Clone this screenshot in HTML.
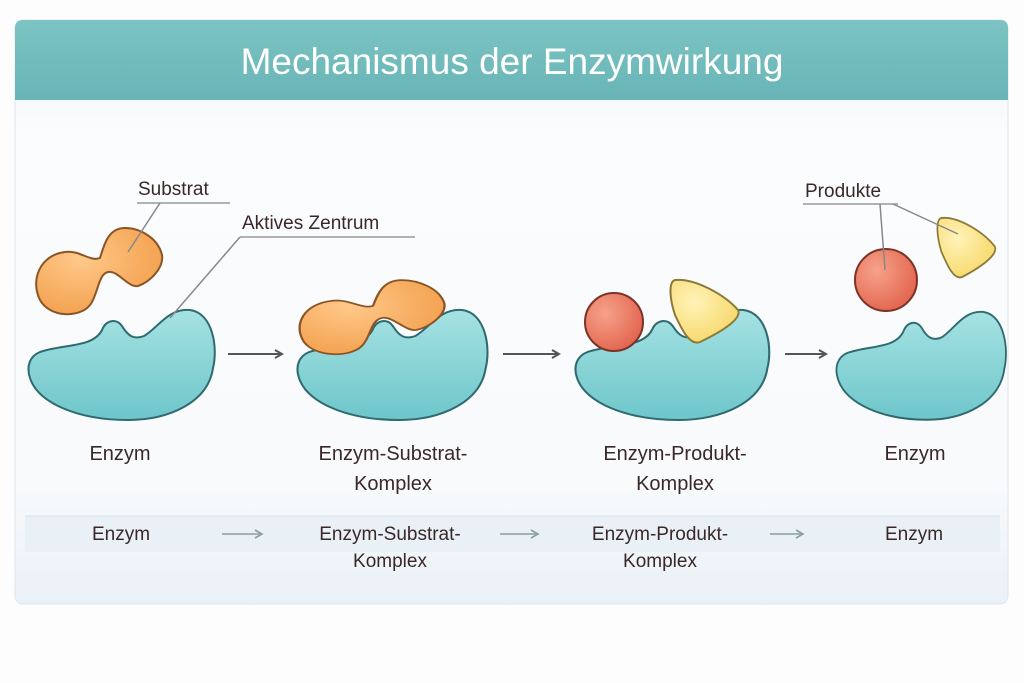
<!DOCTYPE html>
<html><head><meta charset="utf-8"><style>
html,body{margin:0;padding:0;background:#fdfdfd;width:1024px;height:683px;overflow:hidden}
svg{display:block}
text{font-family:"Liberation Sans","DejaVu Sans",sans-serif;fill:#3a2828}
</style></head><body>
<svg width="1024" height="683" viewBox="0 0 1024 683">
<defs>
<linearGradient id="hdr" x1="0" y1="0" x2="0" y2="1"><stop offset="0" stop-color="#7cc4c4"/><stop offset="1" stop-color="#68b4b6"/></linearGradient>
<linearGradient id="card" x1="0" y1="0" x2="0" y2="1"><stop offset="0" stop-color="#eef4f9"/><stop offset="0.2" stop-color="#fbfcfd"/><stop offset="0.8" stop-color="#f8fafc"/><stop offset="1" stop-color="#e9f1f7"/></linearGradient>
<linearGradient id="enz" x1="0" y1="0" x2="0" y2="1"><stop offset="0" stop-color="#a6e2e3"/><stop offset="1" stop-color="#6ec6ca"/></linearGradient>
<radialGradient id="org" cx="0.35" cy="0.35" r="0.7"><stop offset="0" stop-color="#ffc98a"/><stop offset="1" stop-color="#f3a04e"/></radialGradient>
<radialGradient id="red" cx="0.35" cy="0.35" r="0.7"><stop offset="0" stop-color="#f7a28a"/><stop offset="1" stop-color="#e2654f"/></radialGradient>
<radialGradient id="yel" cx="0.35" cy="0.35" r="0.7"><stop offset="0" stop-color="#fff3b8"/><stop offset="1" stop-color="#f7d86a"/></radialGradient>
<path id="E" d="M 12 44 C 35 36, 65 40, 74 22 C 78 12, 88 10, 94 18 C 100 28, 106 32, 116 28 C 130 20, 140 0, 162 2 C 185 5, 190 40, 185 60 C 180 95, 140 112, 100 112 C 50 112, 10 95, 2 70 C -2 58, 2 48, 12 44 Z" fill="url(#enz)" stroke="#2e6a70" stroke-width="2"/>
<path id="S" d="M 40 300 C 30 280, 40 255, 65 252 C 80 250, 90 262, 100 258 C 104 245, 108 228, 125 228 C 140 228, 158 238, 162 255 C 164 268, 150 282, 138 286 C 128 288, 118 270, 108 272 C 98 274, 98 295, 90 305 C 80 318, 50 318, 40 300 Z" fill="url(#org)" stroke="#8a5526" stroke-width="2"/>
<path id="Y" d="M 5 0 C 25 -2, 55 15, 68 30 C 72 38, 55 50, 30 62 C 20 66, 12 50, 5 35 C 0 20, -2 2, 5 0 Z" fill="url(#yel)" stroke="#8a7a3a" stroke-width="2"/>
<marker id="ah" markerWidth="10" markerHeight="10" refX="8" refY="5" orient="auto" markerUnits="userSpaceOnUse"><path d="M1 1 L8 5 L1 9" fill="none" stroke="#555" stroke-width="2"/></marker>
<marker id="ah2" markerWidth="10" markerHeight="10" refX="8" refY="5" orient="auto" markerUnits="userSpaceOnUse"><path d="M1 1 L8 5 L1 9" fill="none" stroke="#8a9ea6" stroke-width="1.6"/></marker>
</defs>
<rect x="15" y="20" width="993" height="584" rx="8" fill="url(#card)" stroke="#dde6ee"/>
<path d="M15 28 Q15 20 23 20 L1000 20 Q1008 20 1008 28 L1008 100 L15 100 Z" fill="url(#hdr)"/>
<text x="512" y="74" text-anchor="middle" font-size="37" style="fill:#fff">Mechanismus der Enzymwirkung</text>

<!-- stage 1 -->
<use href="#E" x="28" y="308"/>
<use href="#S"/>
<!-- stage 2 -->
<use href="#E" transform="translate(297,308) scale(1.02,1)"/>
<use href="#S" transform="translate(258,84) scale(1.15,0.86)"/>
<!-- stage 3 -->
<use href="#E" transform="translate(575,308) scale(1.04,1)"/>
<circle cx="614" cy="322" r="29" fill="url(#red)" stroke="#7a3326" stroke-width="2"/>
<use href="#Y" transform="translate(670,280)"/>
<!-- stage 4 -->
<use href="#E" transform="translate(836,310) scale(0.91,0.98)"/>
<circle cx="886" cy="280" r="31" fill="url(#red)" stroke="#7a3326" stroke-width="2"/>
<use href="#Y" transform="translate(937,218) scale(0.85,0.95)"/>

<!-- labels -->
<text x="138" y="195" font-size="19">Substrat</text>
<line x1="137" y1="203" x2="230" y2="203" stroke="#999" stroke-width="1.5"/>
<line x1="160" y1="203" x2="128" y2="252" stroke="#888" stroke-width="1.5"/>
<text x="242" y="229" font-size="19">Aktives Zentrum</text>
<line x1="240" y1="237" x2="415" y2="237" stroke="#999" stroke-width="1.5"/>
<line x1="240" y1="237" x2="170" y2="318" stroke="#888" stroke-width="1.5"/>
<text x="805" y="197" font-size="19">Produkte</text>
<line x1="803" y1="204" x2="898" y2="204" stroke="#999" stroke-width="1.5"/>
<line x1="880" y1="204" x2="885" y2="270" stroke="#888" stroke-width="1.5"/>
<line x1="893" y1="204" x2="958" y2="234" stroke="#888" stroke-width="1.5"/>

<!-- arrows -->
<line x1="228" y1="354" x2="282" y2="354" stroke="#555" stroke-width="2" marker-end="url(#ah)"/>
<line x1="503" y1="354" x2="559" y2="354" stroke="#555" stroke-width="2" marker-end="url(#ah)"/>
<line x1="785" y1="354" x2="826" y2="354" stroke="#555" stroke-width="2" marker-end="url(#ah)"/>

<g font-size="20" text-anchor="middle">
<text x="120" y="460">Enzym</text>
<text x="393" y="460">Enzym-Substrat-</text>
<text x="393" y="490">Komplex</text>
<text x="675" y="460">Enzym-Produkt-</text>
<text x="675" y="490">Komplex</text>
<text x="915" y="460">Enzym</text>
</g>

<rect x="25" y="516" width="975" height="36" fill="#e9f1f7"/>
<line x1="25" y1="516" x2="1000" y2="516" stroke="#d6e2ea"/>
<g font-size="19" text-anchor="middle">
<text x="121" y="540">Enzym</text>
<text x="390" y="540">Enzym-Substrat-</text>
<text x="390" y="567">Komplex</text>
<text x="660" y="540">Enzym-Produkt-</text>
<text x="660" y="567">Komplex</text>
<text x="914" y="540">Enzym</text>
</g>
<line x1="222" y1="534" x2="262" y2="534" stroke="#8a9ea6" stroke-width="1.6" marker-end="url(#ah2)"/>
<line x1="500" y1="534" x2="538" y2="534" stroke="#8a9ea6" stroke-width="1.6" marker-end="url(#ah2)"/>
<line x1="770" y1="534" x2="803" y2="534" stroke="#8a9ea6" stroke-width="1.6" marker-end="url(#ah2)"/>
</svg>
</body></html>
